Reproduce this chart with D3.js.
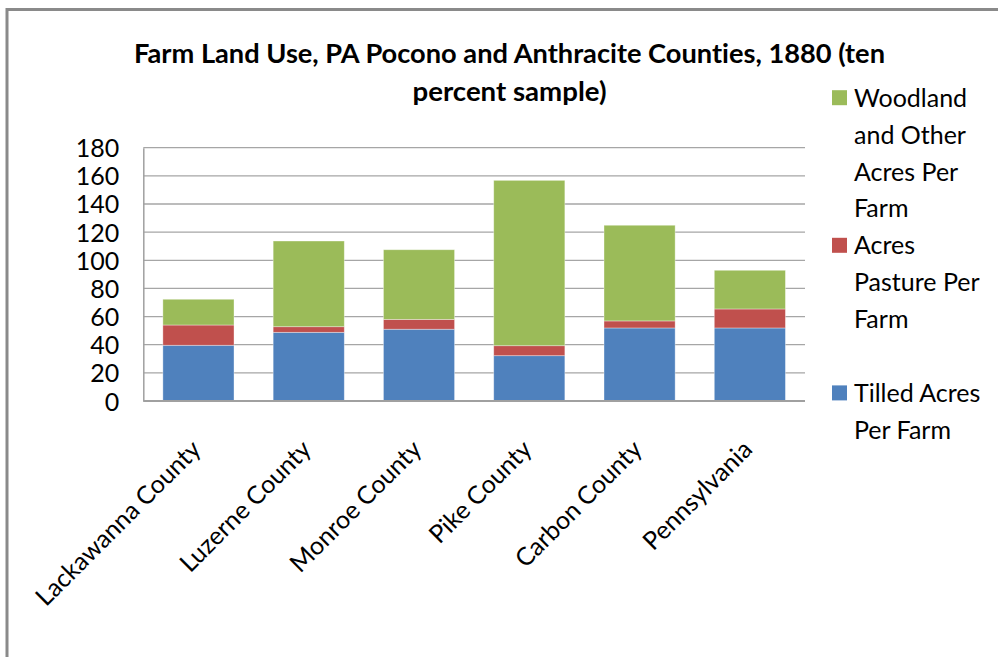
<!DOCTYPE html>
<html>
<head>
<meta charset="utf-8">
<script src="https://cdn.jsdelivr.net/npm/d3@7"></script>
<style>
  html, body { margin: 0; padding: 0; background: #fff; }
  svg { display: block; }
  text { font-family: Lato, "Open Sans", sans-serif; fill: #000; font-variant-ligatures: none; }
</style>
</head>
<body>
<svg id="chart" width="998" height="657"></svg>
<script>
// ---- data ----
const categories = ["Lackawanna County", "Luzerne County", "Monroe County", "Pike County", "Carbon County", "Pennsylvania"];
const tilled   = [39.6, 48.8, 51.0, 32.2, 51.9, 51.9];
const pasture  = [14.4,  4.0,  7.0,  7.1,  5.0, 13.5];
const woodland = [18.3, 60.9, 49.5, 117.5, 68.0, 27.5];
const seriesNames = ["Tilled Acres Per Farm", "Acres Pasture Per Farm", "Woodland and Other Acres Per Farm"];
const legendLines = [
  ["Woodland", "and Other", "Acres Per", "Farm"],
  ["Acres", "Pasture Per", "Farm"],
  ["Tilled Acres", "Per Farm"]
];
const yTicks = [0, 20, 40, 60, 80, 100, 120, 140, 160, 180];
const titleLines = ["Farm Land Use, PA Pocono and Anthracite Counties, 1880 (ten", "percent sample)"];
const colors = ["#4F81BD", "#C0504D", "#9BBB59"];

// ---- layout ----
const svg = d3.select("#chart");
const plot = { left: 143.3, right: 805, top: 147.7, bottom: 401 };

// outer border (partially cropped in reference)
svg.append("rect")
  .attr("x", 7).attr("y", 9.5)
  .attr("width", 1100).attr("height", 800)
  .attr("fill", "none").attr("stroke", "#8a8a8a").attr("stroke-width", 3);

// title
const titleW = [751, 194];
titleLines.forEach((t, i) => {
  svg.append("text")
    .attr("x", 509.5).attr("y", 62.7 + i * 38)
    .attr("text-anchor", "middle")
    .attr("font-weight", "bold")
    .attr("font-size", 26)
    .attr("textLength", titleW[i])
    .attr("lengthAdjust", "spacingAndGlyphs")
    .text(t);
});

// scales
const x = d3.scaleBand()
  .domain(categories)
  .range([plot.left, plot.right])
  .paddingInner(0.355)
  .paddingOuter(0.1775);
const y = d3.scaleLinear().domain([0, 180]).range([plot.bottom, plot.top]);

// gridlines
svg.append("g")
  .selectAll("line")
  .data(yTicks.filter(d => d > 0))
  .join("line")
  .attr("x1", plot.left).attr("x2", plot.right)
  .attr("y1", d => y(d)).attr("y2", d => y(d))
  .attr("stroke", "#a6a6a6").attr("stroke-width", 1.3);

// stacked bars
const rows = categories.map((c, i) => ({ cat: c, tilled: tilled[i], pasture: pasture[i], woodland: woodland[i] }));
const stack = d3.stack().keys(["tilled", "pasture", "woodland"])(rows);
svg.append("g")
  .selectAll("g")
  .data(stack)
  .join("g")
  .attr("fill", (d, i) => colors[i])
  .selectAll("rect")
  .data(d => d)
  .join("rect")
  .attr("x", d => x(d.data.cat))
  .attr("width", x.bandwidth())
  .attr("y", d => y(d[1]))
  .attr("height", d => y(d[0]) - y(d[1]))
  .attr("stroke", "rgba(255,255,255,0.45)")
  .attr("stroke-width", 0.8);

// axes lines
const yAxis = svg.append("g")
  .attr("transform", `translate(${plot.left},0)`)
  .call(d3.axisLeft(y).tickValues(yTicks).tickSize(0).tickPadding(24));
yAxis.select(".domain").attr("stroke", "#a0a0a0").attr("stroke-width", 1.5);
yAxis.selectAll("text")
  .attr("font-size", 25)
  .attr("font-family", "Lato, 'Open Sans', sans-serif")
  .attr("fill", "#000")
  .attr("dy", "0.36em");

svg.append("line")
  .attr("x1", plot.left).attr("x2", plot.right)
  .attr("y1", y(0)).attr("y2", y(0))
  .attr("stroke", "#a0a0a0").attr("stroke-width", 1.8);

// x labels, rotated -45
const xAxis = svg.append("g")
  .attr("transform", `translate(0,${plot.bottom})`)
  .call(d3.axisBottom(x).tickSize(0).tickPadding(0));
xAxis.select(".domain").remove();
xAxis.selectAll("text")
  .attr("font-size", 25)
  .attr("font-family", "Lato, 'Open Sans', sans-serif")
  .attr("fill", "#000")
  .attr("text-anchor", "end")
  .attr("dy", 0)
  .attr("y", 0)
  .attr("transform", "translate(4,50) rotate(-45)");

// legend
const lineH = 36.9;
const legendTop = 106.7;
const legendOrder = [2, 1, 0]; // woodland, pasture, tilled
const lg = svg.append("g");
legendOrder.forEach((s, k) => {
  const base = legendTop + k * 4 * lineH;
  lg.append("rect")
    .attr("x", 832).attr("y", base - 16.5)
    .attr("width", 15).attr("height", 15)
    .attr("fill", colors[s]);
  legendLines[k].forEach((t, j) => {
    lg.append("text")
      .attr("x", 854).attr("y", base + j * lineH)
      .attr("font-size", 25)
      .text(t);
  });
});
</script>
</body>
</html>
